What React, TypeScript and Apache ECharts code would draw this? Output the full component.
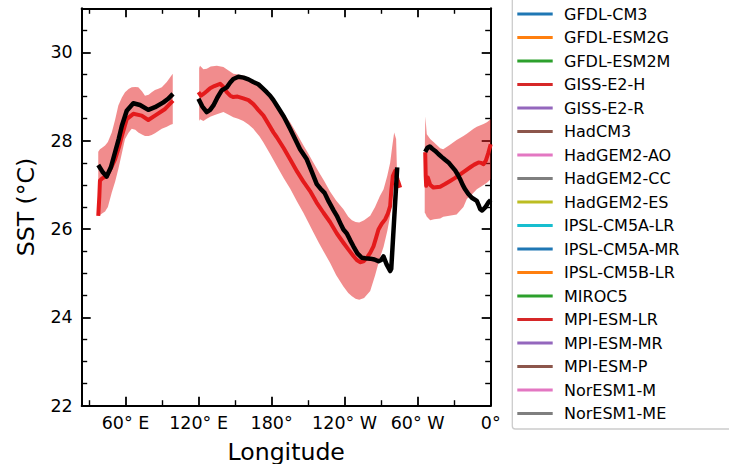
import React, { useEffect, useRef } from 'react';
import * as echarts from 'echarts';

// ---- axis ticks ----
const xTickValues = [60, 120, 180, 240, 300, 360];
const xTickLabels = ['60° E', '120° E', '180°', '120° W', '60° W', '0°'];
const xMinorValues = [30, 90, 150, 210, 270, 330];

// ---- legend entries (models) ----
const models = [
  'GFDL-CM3', 'GFDL-ESM2G', 'GFDL-ESM2M', 'GISS-E2-H', 'GISS-E2-R', 'HadCM3',
  'HadGEM2-AO', 'HadGEM2-CC', 'HadGEM2-ES', 'IPSL-CM5A-LR', 'IPSL-CM5A-MR',
  'IPSL-CM5B-LR', 'MIROC5', 'MPI-ESM-LR', 'MPI-ESM-MR', 'MPI-ESM-P', 'NorESM1-M', 'NorESM1-ME',
];
const modelColors = [
  '#1f77b4', '#ff7f0e', '#2ca02c', '#d62728', '#9467bd', '#8c564b',
  '#e377c2', '#7f7f7f', '#bcbd22', '#17becf', '#1f77b4',
  '#ff7f0e', '#2ca02c', '#d62728', '#9467bd', '#8c564b', '#e377c2', '#7f7f7f',
];

// ---- observations (black) : [longitude, SST] ----
const obsIndian: number[][] = [
  [37.6, 27.45], [41, 27.3], [44.5, 27.19], [48, 27.4], [51.4, 27.74], [54.5, 28.05],
  [57, 28.34], [61, 28.68], [66.4, 28.85], [71.9, 28.81], [78.7, 28.7], [84.2, 28.76],
  [91.1, 28.87], [95, 28.95], [99, 29.06],
];
const obsPacific: number[][] = [
  [119.9, 28.95], [123, 28.78], [126.7, 28.65], [129.5, 28.7], [132.2, 28.8], [135.5, 28.98],
  [139, 29.14], [143.2, 29.21], [146, 29.32], [148.6, 29.4], [152.7, 29.45], [157, 29.43],
  [161, 29.39], [165, 29.33], [169.1, 29.28], [173, 29.18], [176, 29.1], [178.8, 29.02],
  [181.5, 28.92], [184.3, 28.8], [190, 28.55], [195.2, 28.27], [199.5, 28.03], [203.4, 27.81],
  [208.9, 27.58], [213, 27.3], [217.1, 27.02], [220, 26.92], [223.5, 26.82], [227, 26.62],
  [230.8, 26.43], [233.6, 26.3], [236.5, 26.13], [239, 25.99], [241.8, 25.9], [244.5, 25.75],
  [247.2, 25.61], [250.5, 25.45], [254.1, 25.35], [257, 25.34], [261, 25.33], [264.5, 25.31],
  [267.8, 25.27], [270, 25.3], [271.9, 25.38], [274.5, 25.2], [277.4, 25.05], [278.3, 25.1],
  [283.2, 27.4],
];
const obsAtlantic: number[][] = [
  [306.2, 27.75], [308, 27.84], [310, 27.87], [312, 27.82], [314.4, 27.77], [317, 27.7],
  [319.9, 27.63], [322.5, 27.57], [325.3, 27.51], [328, 27.42], [330.8, 27.33], [333, 27.23],
  [334.9, 27.13], [337, 27.0], [339, 26.9], [341.5, 26.8], [344.5, 26.71], [348.6, 26.64],
  [350, 26.55], [351.4, 26.45], [353, 26.42], [355.5, 26.49], [358, 26.6], [360, 26.66],
];

// ---- multi-model mean (red) : [longitude, SST] ----
const meanIndian: number[][] = [
  [37.6, 26.3], [38.5, 26.75], [39, 27.1], [41, 27.15], [44.5, 27.2], [48, 27.38],
  [51.4, 27.58], [54.5, 27.85], [57, 28.11], [61, 28.49], [66.4, 28.61], [73.3, 28.57],
  [78.7, 28.47], [84.2, 28.57], [92.5, 28.72], [99, 28.91],
];
const meanPacific: number[][] = [
  [119.9, 29.1], [122, 29.02], [124, 29.06], [126.7, 29.12], [129.5, 29.19], [133, 29.24],
  [137.7, 29.29], [140.5, 29.22], [143.2, 29.1], [146, 29.02], [148.6, 28.99], [152, 29.0],
  [156.8, 28.96], [161, 28.92], [165, 28.83], [169, 28.7], [173.3, 28.57], [177, 28.4],
  [181.5, 28.19], [184.3, 28.08], [190, 27.83], [195.2, 27.58], [201, 27.3], [206, 27.08],
  [211.6, 26.86], [217, 26.6], [222.6, 26.37], [228, 26.16], [233.6, 25.9], [239, 25.69],
  [243, 25.54], [247.2, 25.39], [250, 25.3], [252.7, 25.25], [255.5, 25.27], [258.2, 25.35],
  [261, 25.46], [263.7, 25.61], [265.8, 25.8], [267.8, 25.99], [270.5, 26.12], [273.3, 26.22],
  [275.5, 26.35], [277.4, 26.52], [278.3, 26.85], [279.6, 27.2], [281.5, 27.32], [283.5, 27.12],
  [285.6, 26.94],
];
const meanAtlantic: number[][] = [
  [306.2, 27.74], [306.6, 27.2], [307, 26.98], [308.3, 27.17], [310.3, 27.0], [313, 26.94],
  [318.5, 26.96], [322.5, 27.02], [326.7, 27.09], [330.8, 27.16], [334.9, 27.24], [339, 27.32],
  [343.2, 27.4], [346.5, 27.46], [350, 27.51], [352, 27.5], [354.1, 27.47], [356, 27.55],
  [358, 27.72], [360, 27.92],
];

// ---- model spread (shaded band) ----
const bandIndianLon = [37.6, 39, 41, 43.2, 45.5, 48.7, 51.5, 54.1, 57, 59.6, 62.5, 65.1, 68, 70.5, 73.5, 76, 79, 81.5, 84.2, 87, 89.8, 93.9, 97, 98.8];
const bandIndianLow = [26.3, 26.32, 26.36, 26.4, 26.5, 26.83, 27.08, 27.36, 27.72, 28.04, 28.18, 28.27, 28.25, 28.19, 28.14, 28.11, 28.11, 28.13, 28.17, 28.22, 28.27, 28.32, 28.36, 28.38];
const bandIndianHigh = [27.75, 27.81, 27.85, 27.89, 27.97, 28.19, 28.48, 28.8, 28.98, 29.1, 29.17, 29.21, 29.22, 29.21, 29.12, 29.02, 29.04, 29.1, 29.15, 29.18, 29.21, 29.33, 29.45, 29.52];

const bandPacificLon = [120.5, 121.2, 124, 126.7, 130, 135, 140.4, 144, 148.6, 152.5, 156.8, 161, 165, 170, 173.3, 178.8, 184.3, 190, 195.2, 201, 206.1, 210, 214.4, 219, 223, 228, 233, 239, 243, 246, 249, 252, 256, 261, 265, 269, 272, 275, 277.4, 279, 280.7, 282.3, 283.2];
const bandPacificHigh = [29.65, 29.7, 29.62, 29.63, 29.68, 29.7, 29.67, 29.6, 29.52, 29.5, 29.48, 29.42, 29.33, 29.25, 29.15, 29.02, 28.8, 28.62, 28.42, 28.15, 27.9, 27.72, 27.5, 27.28, 27.1, 26.85, 26.65, 26.45, 26.28, 26.2, 26.16, 26.15, 26.2, 26.3, 26.5, 26.75, 26.9, 27.2, 27.5, 27.85, 28.19, 28.04, 27.1];
const bandPacificLow = [28.45, 28.49, 28.45, 28.5, 28.55, 28.6, 28.65, 28.6, 28.53, 28.5, 28.45, 28.37, 28.27, 28.1, 27.96, 27.7, 27.43, 27.15, 26.92, 26.62, 26.37, 26.16, 25.92, 25.68, 25.48, 25.24, 24.96, 24.7, 24.55, 24.48, 24.42, 24.4, 24.44, 24.6, 24.95, 25.35, 25.6, 25.95, 26.3, 26.9, 27.15, 27.1, 27.05];

const bandAtlanticLon = [305.8, 306.3, 307.5, 310.3, 313.5, 318.5, 321, 326, 332, 337.6, 340.4, 345.9, 348.6, 354.1, 356.9, 360];
const bandAtlanticHigh = [27.75, 28.55, 28.15, 28.04, 27.96, 27.83, 27.81, 27.9, 28.02, 28.11, 28.16, 28.27, 28.32, 28.38, 28.42, 28.49];
const bandAtlanticLow = [26.37, 26.35, 26.28, 26.2, 26.22, 26.24, 26.28, 26.3, 26.33, 26.5, 26.68, 26.82, 26.9, 27.0, 27.05, 27.13];

const FONT = 'DejaVu Sans';

export default function App() {
  const ref = useRef<HTMLDivElement>(null);

  useEffect(() => {
    if (!ref.current) return;
    const chart = echarts.init(ref.current, null, { renderer: 'svg' });

    const bands = [
      { lon: bandIndianLon, low: bandIndianLow, high: bandIndianHigh },
      { lon: bandPacificLon, low: bandPacificLow, high: bandPacificHigh },
      { lon: bandAtlanticLon, low: bandAtlanticLow, high: bandAtlanticHigh },
    ];

    const axisLineStyle = { color: '#000', width: 2 };
    const labelFor = (v: number) => {
      const i = xTickValues.indexOf(Math.round(v));
      return i >= 0 ? xTickLabels[i] : '';
    };

    const xCommon = { type: 'value', min: 24, max: 360, splitLine: { show: false } };
    const xAxis = [
      {
        ...xCommon,
        position: 'bottom',
        axisLine: { show: true, onZero: false, lineStyle: axisLineStyle },
        axisTick: { show: true, inside: true, length: 9, customValues: xTickValues, lineStyle: { color: '#000', width: 1.8 } },
        axisLabel: {
          show: true, customValues: xTickValues, formatter: labelFor, margin: 8,
          fontFamily: FONT, fontSize: 17.5, color: '#000',
        },
        name: 'Longitude', nameLocation: 'middle', nameGap: 34,
        nameTextStyle: { fontFamily: FONT, fontSize: 23.6, color: '#000' },
      },
      {
        ...xCommon,
        position: 'bottom',
        axisLine: { show: false, onZero: false },
        axisTick: { show: true, inside: true, length: 5.5, customValues: xMinorValues, lineStyle: { color: '#000', width: 1.4 } },
        axisLabel: { show: false },
      },
      {
        ...xCommon,
        position: 'top',
        axisLine: { show: true, onZero: false, lineStyle: axisLineStyle },
        axisTick: { show: true, inside: true, length: 9, customValues: xTickValues, lineStyle: { color: '#000', width: 1.8 } },
        axisLabel: { show: false },
      },
      {
        ...xCommon,
        position: 'top',
        axisLine: { show: false, onZero: false },
        axisTick: { show: true, inside: true, length: 5.5, customValues: xMinorValues, lineStyle: { color: '#000', width: 1.4 } },
        axisLabel: { show: false },
      },
    ];

    const yCommon = {
      type: 'value', min: 22, max: 31, interval: 2,
      splitLine: { show: false },
      axisLine: { show: true, onZero: false, lineStyle: axisLineStyle },
      axisTick: { show: true, inside: true, length: 9, lineStyle: { color: '#000', width: 1.8 } },
      minorTick: { show: true, splitNumber: 4, length: 5.5, lineStyle: { color: '#000', width: 1.4 } },
    };
    const yAxis = [
      {
        ...yCommon,
        position: 'left',
        axisLabel: {
          show: true, margin: 9, showMaxLabel: false,
          fontFamily: FONT, fontSize: 17.5, color: '#000',
        },
        name: 'SST (°C)', nameLocation: 'middle', nameGap: 44, nameRotate: 90,
        nameTextStyle: { fontFamily: FONT, fontSize: 23.6, color: '#000' },
      },
      {
        ...yCommon,
        position: 'right',
        axisLabel: { show: false },
      },
    ];

    const lineSeries = (data: number[][], color: string, width: number, z: number) => ({
      type: 'line',
      data,
      xAxisIndex: 0,
      yAxisIndex: 0,
      showSymbol: false,
      symbol: 'none',
      silent: true,
      z,
      lineStyle: { color, width, join: 'round', cap: 'butt' },
    });

    const option: any = {
      animation: false,
      textStyle: { fontFamily: FONT },
      grid: {
        left: 81.7, right: 238.3, top: 8.3, bottom: 58.3,
        containLabel: false, outerBoundsMode: 'none',
      },
      xAxis,
      yAxis,
      legend: {
        data: models,
        orient: 'vertical',
        left: 517.3,
        top: 2.25,
        icon: 'rect',
        itemWidth: 35.4,
        itemHeight: 3,
        itemGap: 0,
        padding: 0,
        selectedMode: false,
        z: 10,
        textStyle: {
          fontFamily: FONT, fontSize: 16, color: '#000', lineHeight: 23.5,
          padding: [0, 0, 0, 6.3],
        },
      },
      graphic: [
        {
          type: 'rect',
          z: 0,
          silent: true,
          shape: { x: 512.3, y: -20, width: 240, height: 449, r: 3 },
          style: { fill: '#ffffff', stroke: '#cccccc', lineWidth: 1.3 },
        },
      ],
      series: [
        {
          type: 'custom',
          xAxisIndex: 0,
          yAxisIndex: 0,
          silent: true,
          z: 1,
          data: bands.map((b) => [b.lon[0], b.low[0]]),
          encode: { x: 0, y: 1 },
          renderItem: (params: any, api: any) => {
            const b = bands[params.dataIndex];
            const pts: number[][] = [];
            for (let i = 0; i < b.lon.length; i++) pts.push(api.coord([b.lon[i], b.high[i]]));
            for (let i = b.lon.length - 1; i >= 0; i--) pts.push(api.coord([b.lon[i], b.low[i]]));
            return { type: 'polygon', shape: { points: pts }, style: { fill: 'rgba(228,26,28,0.5)' } };
          },
        },
        lineSeries(meanIndian, '#e41a1c', 4, 2),
        lineSeries(meanPacific, '#e41a1c', 4, 2),
        lineSeries(meanAtlantic, '#e41a1c', 4, 2),
        lineSeries(obsIndian, '#000000', 4.5, 3),
        lineSeries(obsPacific, '#000000', 4.5, 3),
        lineSeries(obsAtlantic, '#000000', 4.5, 3),
        ...models.map((m, i) => ({
          type: 'line',
          name: m,
          data: [],
          itemStyle: { color: modelColors[i] },
          lineStyle: { color: modelColors[i], width: 3 },
        })),
      ],
    };

    chart.setOption(option);
    return () => chart.dispose();
  }, []);

  return (
    <div
      ref={ref}
      style={{ position: 'absolute', left: 0, top: 0, width: 729, height: 464, overflow: 'hidden', background: '#fff' }}
    />
  );
}
